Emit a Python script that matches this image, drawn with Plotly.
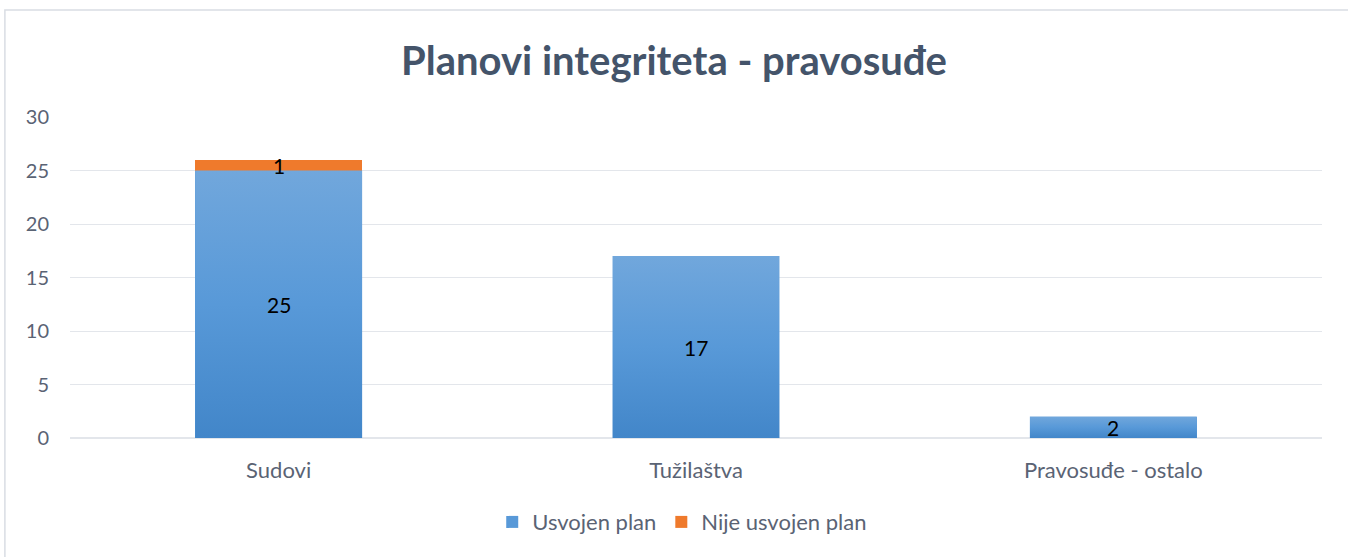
import plotly.graph_objects as go

categories = ["Sudovi", "Tužilaštva", "Pravosuđe - ostalo"]
usvojen = [25, 17, 2]
nije_usvojen = [1, 0, 0]
series_names = ["Usvojen plan", "Nije usvojen plan"]
y_ticks = [0, 5, 10, 15, 20, 25, 30]

blue = "#5899d8"
blue_top = "#71a7dc"
blue_bottom = "#4286c9"
orange = "#ef7a2c"
font_family = "Lato"
text_color = "#5a6374"
bar_width = 0.4

xpos = list(range(len(categories)))

fig = go.Figure()
fig.add_trace(go.Bar(x=xpos, y=usvojen, name=series_names[0], width=bar_width,
                     marker=dict(color=blue, line=dict(width=0))))
fig.add_trace(go.Bar(x=xpos, y=nije_usvojen, name=series_names[1], width=bar_width,
                     marker=dict(color=orange, line=dict(width=0))))

# gradient overlay for the blue bars (derived from the data)
for i, v in zip(xpos, usvojen):
    h = bar_width / 2
    fig.add_trace(go.Scatter(
        x=[i - h, i + h, i + h, i - h, i - h], y=[0, 0, v, v, 0],
        mode="lines", line=dict(width=0), fill="toself",
        fillgradient=dict(type="vertical", colorscale=[[0, blue_bottom], [0.5, blue], [1, blue_top]]),
        showlegend=False, hoverinfo="skip"))

# data labels
for i, c in enumerate(xpos):
    fig.add_annotation(x=c, y=usvojen[i] / 2, text=str(usvojen[i]), showarrow=False,
                       font=dict(size=21, color="#000000", family=font_family))
    if nije_usvojen[i] > 0:
        fig.add_annotation(x=c, y=usvojen[i] + nije_usvojen[i] / 2, text=str(nije_usvojen[i]),
                           showarrow=False, font=dict(size=21, color="#000000", family=font_family))

# chart border
fig.add_shape(type="rect", xref="paper", yref="paper", x0=-0.052, x1=1.2, y0=-0.6, y1=1.333,
              line=dict(color="#d9dde3", width=1.5), fillcolor="rgba(0,0,0,0)", layer="below")

fig.update_layout(
    width=1348, height=557,
    barmode="stack",
    paper_bgcolor="white", plot_bgcolor="white",
    margin=dict(l=70, r=26, t=117, b=119),
    title=dict(text="<b>Planovi integriteta - pravosuđe</b>", x=0.5, xanchor="center",
               y=(557 - 61) / 557, yanchor="middle",
               font=dict(size=40, color="#44546a", family=font_family)),
    legend=dict(orientation="h", x=0.489, xanchor="center", y=-0.262, yanchor="middle",
                font=dict(size=22, color=text_color, family=font_family),
                traceorder="normal", itemwidth=30),
    showlegend=True,
    font=dict(family=font_family, color=text_color),
)
fig.update_xaxes(range=[-0.5, 2.5], tickvals=xpos, ticktext=categories,
                 showgrid=False, showline=False, ticks="", zeroline=False,
                 tickfont=dict(size=22, color=text_color), ticklabelstandoff=17)
fig.update_yaxes(range=[0, 30], tickvals=y_ticks, showgrid=True, gridcolor="#e3e6eb",
                 gridwidth=1.3, zeroline=True, zerolinecolor="#e3e6eb", showline=False, ticks="",
                 tickfont=dict(size=20, color=text_color), ticklabelstandoff=20)

fig.write_html("out.html", config={"displayModeBar": False},
               post_script="document.body.style.margin='0';")
